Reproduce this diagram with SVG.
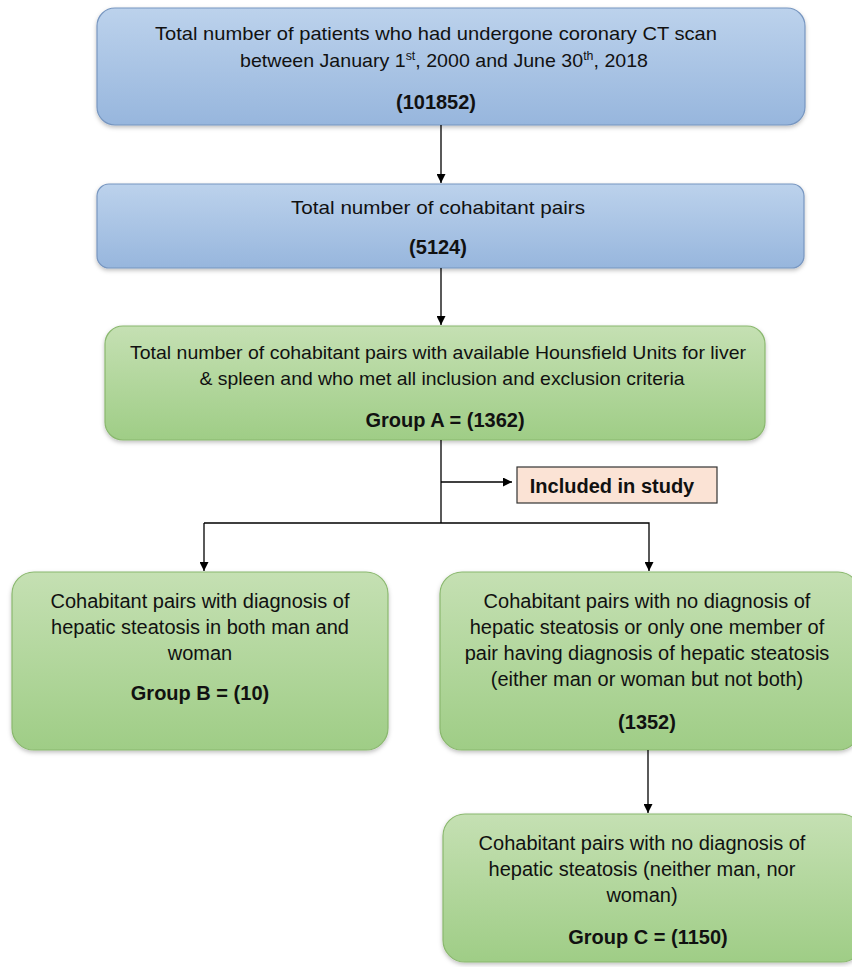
<svg xmlns="http://www.w3.org/2000/svg" width="852" height="967" viewBox="0 0 852 967">
<defs>
<linearGradient id="gb" x1="0" y1="0" x2="0" y2="1"><stop offset="0" stop-color="#bcd2ec"/><stop offset="1" stop-color="#97b6dd"/></linearGradient>
<linearGradient id="gg" x1="0" y1="0" x2="0" y2="1"><stop offset="0" stop-color="#c5e0b3"/><stop offset="1" stop-color="#9fcd86"/></linearGradient>
<filter id="sh" x="-5%" y="-5%" width="110%" height="115%"><feDropShadow dx="0" dy="2" stdDeviation="2" flood-color="#000" flood-opacity="0.25"/></filter>
<marker id="ar" viewBox="0 0 10 10" refX="10" refY="5" markerWidth="9" markerHeight="9" markerUnits="userSpaceOnUse" orient="auto"><path d="M0,0 L10,5 L0,10 z" fill="#000"/></marker>
</defs>
<style>
.blue{fill:url(#gb);stroke:#7796c0;stroke-width:1.2;filter:url(#sh)}
.green{fill:url(#gg);stroke:#8ab86e;stroke-width:1.2;filter:url(#sh)}
text{font-family:"Liberation Sans",Arial,sans-serif;fill:#111;text-anchor:middle}
.t{font-size:19px}
.c{font-size:20px}
.cb{font-size:20px;font-weight:bold}
.ln{stroke:#000;stroke-width:1.3;fill:none}
</style>
<rect width="852" height="967" fill="#fff"/>
<g id="n1">
<rect class="blue" x="97" y="8" width="708" height="117" rx="18"/>
<text class="t" x="436" y="40" textLength="562" lengthAdjust="spacingAndGlyphs">Total number of patients who had undergone coronary CT scan</text>
<text class="t" x="444" y="67" textLength="408" lengthAdjust="spacingAndGlyphs">between January 1<tspan font-size="12" dy="-7">st</tspan><tspan dy="7">, 2000 and June 30</tspan><tspan font-size="12" dy="-7">th</tspan><tspan dy="7">, 2018</tspan></text>
<text class="cb" x="436" y="109">(101852)</text>
</g>
<g id="n2">
<rect class="blue" x="97" y="184" width="707" height="84" rx="12"/>
<text class="t" x="438" y="214" textLength="294" lengthAdjust="spacingAndGlyphs">Total number of cohabitant pairs</text>
<text class="cb" x="438" y="254">(5124)</text>
</g>
<g id="n3">
<rect class="green" x="105" y="326" width="660" height="114" rx="18"/>
<text class="t" x="438" y="359" textLength="616" lengthAdjust="spacingAndGlyphs">Total number of cohabitant pairs with available Hounsfield Units for liver</text>
<text class="t" x="442" y="385" textLength="485" lengthAdjust="spacingAndGlyphs">&amp; spleen and who met all inclusion and exclusion criteria</text>
<text class="cb" x="445" y="427">Group A = (1362)</text>
</g>
<g id="inc">
<rect x="517" y="467" width="200" height="36" fill="#fbe3d5" stroke="#333" stroke-width="1.2"/>
<text class="cb" x="612" y="493">Included in study</text>
</g>
<g id="nB">
<rect class="green" x="12" y="572" width="376" height="178" rx="22"/>
<text class="c" x="200" y="608">Cohabitant pairs with diagnosis of</text>
<text class="c" x="200" y="634">hepatic steatosis in both man and</text>
<text class="c" x="200" y="660">woman</text>
<text class="cb" x="200" y="700">Group B = (10)</text>
</g>
<g id="nR">
<rect class="green" x="440" y="572" width="420" height="178" rx="22"/>
<text class="c" x="647" y="608">Cohabitant pairs with no diagnosis of</text>
<text class="c" x="647" y="634">hepatic steatosis or only one member of</text>
<text class="c" x="647" y="660">pair having diagnosis of hepatic steatosis</text>
<text class="c" x="647" y="686">(either man or woman but not both)</text>
<text class="cb" x="647" y="729">(1352)</text>
</g>
<g id="nC">
<rect class="green" x="443" y="814" width="420" height="148" rx="22"/>
<text class="c" x="642" y="850">Cohabitant pairs with no diagnosis of</text>
<text class="c" x="642" y="876">hepatic steatosis (neither man, nor</text>
<text class="c" x="642" y="902">woman)</text>
<text class="cb" x="648" y="944">Group C = (1150)</text>
</g>
<g id="connectors">
<line class="ln" x1="441" y1="125" x2="441" y2="183" marker-end="url(#ar)"/>
<line class="ln" x1="441" y1="268" x2="441" y2="325" marker-end="url(#ar)"/>
<polyline class="ln" points="441,440 441,523"/>
<line class="ln" x1="441" y1="482" x2="512" y2="482" marker-end="url(#ar)"/>
<polyline class="ln" points="204,523 649,523 649,571" marker-end="url(#ar)"/>
<polyline class="ln" points="204,523 204,571" marker-end="url(#ar)"/>
<line class="ln" x1="648" y1="750" x2="648" y2="813" marker-end="url(#ar)"/>
</g>
</svg>
